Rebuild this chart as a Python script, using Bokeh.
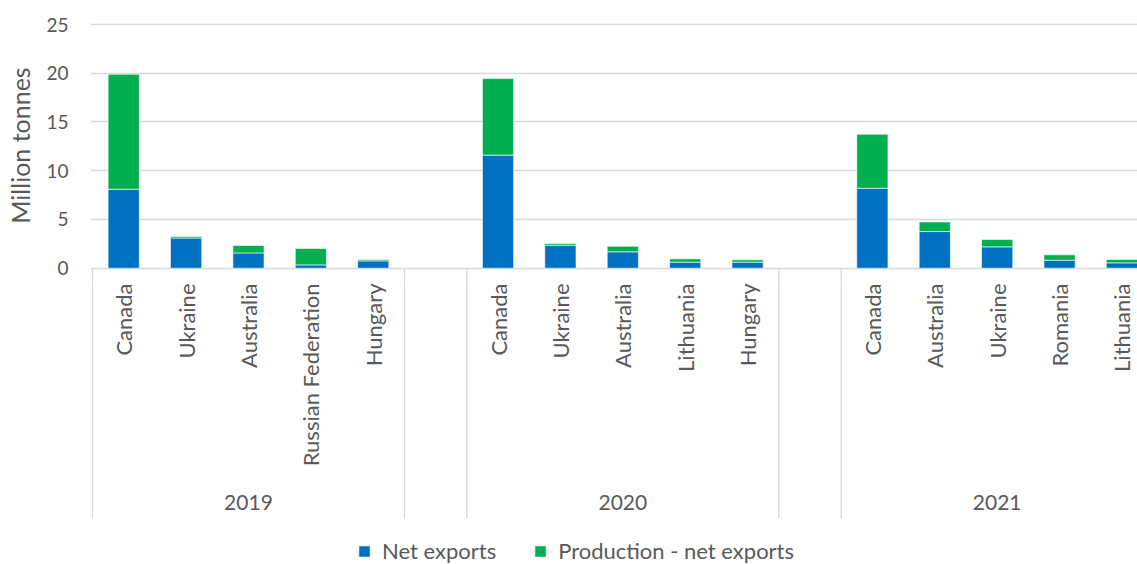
from math import pi
from bokeh.plotting import figure
from bokeh.layouts import column
from bokeh.models import ColumnDataSource, Range1d, FixedTicker, Legend, LegendItem
from bokeh.core.properties import value
from bokeh.embed import file_html
from bokeh.resources import INLINE

# ---------------- data (million tonnes) ----------------
years = ["2019", "2020", "2021"]

countries_2019 = ["Canada", "Ukraine", "Australia", "Russian Federation", "Hungary"]
net_exports_2019 = [8.1, 3.1, 1.57, 0.34, 0.75]
remainder_2019 = [11.8, 0.15, 0.76, 1.68, 0.14]

countries_2020 = ["Canada", "Ukraine", "Australia", "Lithuania", "Hungary"]
net_exports_2020 = [11.6, 2.36, 1.68, 0.62, 0.62]
remainder_2020 = [7.85, 0.17, 0.58, 0.34, 0.24]

countries_2021 = ["Canada", "Australia", "Ukraine", "Romania", "Lithuania"]
net_exports_2021 = [8.2, 3.76, 2.19, 0.82, 0.55]
remainder_2021 = [5.55, 0.99, 0.75, 0.55, 0.34]

series_names = ["Net exports", "Production - net exports"]
y_ticks = [0, 5, 10, 15, 20, 25]

# ---------------- style ----------------
FONT = "Lato"
TEXT = "#595959"
GRID = "#D9D9D9"
BLUE = "#0070C0"
GREEN = "#00B050"

groups = [
    (countries_2019, net_exports_2019, remainder_2019),
    (countries_2020, net_exports_2020, remainder_2020),
    (countries_2021, net_exports_2021, remainder_2021),
]

xs, labels, net, rest = [], [], [], []
group_centers, separators = [], [-0.5]
for g, (c, n, r) in enumerate(groups):
    start = g * (len(c) + 1)
    for i in range(len(c)):
        xs.append(start + i)
        labels.append(c[i])
        net.append(n[i])
        rest.append(r[i])
    group_centers.append(start + (len(c) - 1) / 2)
    separators += [start + len(c) - 0.5, start + len(c) + 0.5]

src = ColumnDataSource(dict(x=xs, label=labels, net=net, rest=rest))

# ---------------- geometry ----------------
W, H = 1137, 564
LEFT = 90
TOP = 9
SPLIT = 281          # pixel row where the bar panel ends and the label panel begins
ZERO_PX = 267.7      # pixel row of the zero line
slot_px = 62.39
px_per_unit = 9.747


def v(px):
    """pixel row -> value units (same scale as the bars)"""
    return -(px - ZERO_PX) / px_per_unit


x0 = -0.5 - 2 / slot_px
x1 = x0 + (W - LEFT) / slot_px
x_range = Range1d(x0, x1)

# ---------------- bar panel ----------------
p = figure(width=W, height=SPLIT, x_range=x_range, y_range=Range1d(v(SPLIT), v(TOP)),
           output_backend="svg", toolbar_location=None, x_axis_type=None,
           min_border_left=LEFT, min_border_right=0, min_border_top=TOP, min_border_bottom=0)
p.outline_line_color = None
p.background_fill_color = "white"
p.border_fill_color = "white"

bars = p.vbar_stack(["net", "rest"], x="x", width=0.5, source=src,
                    color=[BLUE, GREEN], line_color="white", line_width=0.6)

ax = p.yaxis[0]
ax.ticker = FixedTicker(ticks=y_ticks)
ax.axis_line_color = None
ax.major_tick_line_color = None
ax.minor_tick_line_color = None
ax.major_tick_out = 0
ax.major_tick_in = 0
ax.major_label_standoff = 22
ax.major_label_text_font = FONT
ax.major_label_text_font_size = "19px"
ax.major_label_text_color = TEXT
ax.axis_label = "Million tonnes"
ax.axis_label_text_font = FONT
ax.axis_label_text_font_size = "25px"
ax.axis_label_text_font_style = "normal"
ax.axis_label_text_color = TEXT
ax.axis_label_standoff = 8

p.ygrid.ticker = FixedTicker(ticks=y_ticks)
p.ygrid.grid_line_color = GRID
p.ygrid.grid_line_width = 1.3

sep_bottom = v(518)
p.segment(x0=separators, y0=[0] * len(separators), x1=separators,
          y1=[sep_bottom] * len(separators), line_color=GRID, line_width=1.3)

# ---------------- category label panel ----------------
q = figure(width=W, height=H - SPLIT, x_range=x_range, y_range=Range1d(v(H), v(SPLIT)),
           output_backend="svg", toolbar_location=None, x_axis_type=None, y_axis_type=None,
           min_border_left=LEFT, min_border_right=0, min_border_top=0, min_border_bottom=0)
q.outline_line_color = None
q.background_fill_color = "white"
q.border_fill_color = "white"

q.segment(x0=separators, y0=[0] * len(separators), x1=separators,
          y1=[sep_bottom] * len(separators), line_color=GRID, line_width=1.3)

q.text(x="x", y=v(283), text="label", source=src, angle=pi / 2,
       text_align="right", text_baseline="middle", text_font=value(FONT),
       text_font_size=value("22px"), text_color=TEXT)

q.text(x=group_centers, y=[v(501.5)] * len(years), text=years,
       text_align="center", text_baseline="middle", text_font=value(FONT),
       text_font_size=value("21px"), text_color=TEXT)

# proxy renderers (one row placed off the visible x range) so the legend can live here
proxy_src = ColumnDataSource(dict(x=[x0 - 100], net=[net[0]], rest=[rest[0]]))
proxy = q.vbar_stack(["net", "rest"], x="x", width=0.5, source=proxy_src,
                     color=[BLUE, GREEN], line_color="white", line_width=0.6)

legend = Legend(items=[LegendItem(label=series_names[0], renderers=[proxy[0]]),
                       LegendItem(label=series_names[1], renderers=[proxy[1]])],
                location=(267, 0), orientation="horizontal")
legend.border_line_color = None
legend.background_fill_alpha = 0
legend.padding = 0
legend.margin = 0
legend.spacing = 37
legend.glyph_width = 14
legend.glyph_height = 14
legend.label_standoff = 11
legend.label_text_font = FONT
legend.label_text_font_size = "22px"
legend.label_text_color = TEXT
q.add_layout(legend, "center")

layout = column(p, q, spacing=0)
open("out.html", "w").write(file_html(layout, INLINE))
